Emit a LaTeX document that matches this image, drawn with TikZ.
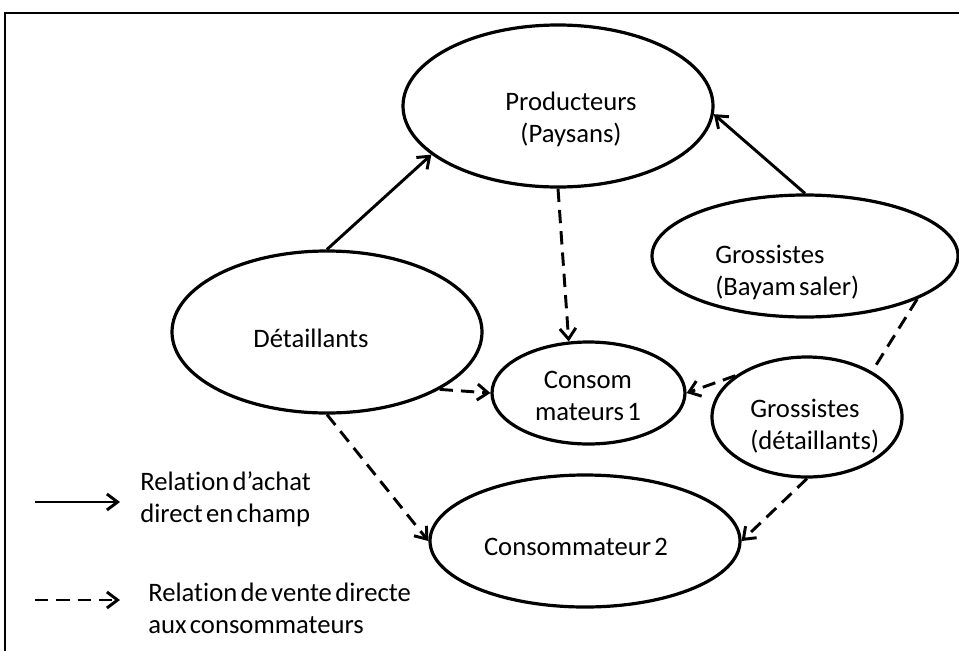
\documentclass[tikz,border=0pt]{standalone}
\usepackage{fontspec}
\setmainfont{Carlito}[WordSpace=0.55, RawFeature={-liga;-clig;-dlig;-hlig}]
\usetikzlibrary{arrows.meta,shapes.geometric}
\tikzset{
  ell/.style 2 args={draw, ellipse, line width=2.4pt, inner sep=0pt,
    minimum width=#1*0.75pt, minimum height=#2*0.75pt},
  txt/.style={inner sep=0pt, font=\fontsize{20}{24}\selectfont},
  buy/.style={line width=2.2pt, -{Straight Barb[length=8pt,width=12pt,line width=2.2pt]}},
  sell/.style={buy, dash pattern=on 10pt off 6pt},
  plain/.style={line width=2.2pt, dash pattern=on 10pt off 6pt},
  frameline/.style={line width=1.8pt}
}
\begin{document}
\begin{tikzpicture}[x=0.75pt,y=-0.75pt]
\useasboundingbox (0,0) rectangle (959,650);
% frame
\draw[frameline] (5,652) -- (5,13) -- (962,13);
% ellipses
\node[ell={310}{162}] (prod) at (558,106) {};
\node[ell={306}{122}] (bay)  at (805,256) {};
\node[ell={310}{162}] (det)  at (327,332) {};
\node[ell={193}{102}] (c1)   at (588.5,393) {};
\node[ell={190}{120}] (gd)   at (807,417) {};
\node[ell={310}{132}] (c2)   at (585,541) {};
% texts
\node[txt, align=center] (tprod) at (571,119) {Producteurs\\(Paysans)};
\node[txt, align=left, anchor=west] (tbay) at (715,272.5) {Grossistes\\(Bayam saler)};
\node[txt] (tdet) at (311,338) {Détaillants};
\node[txt, align=center] (tc1) at (588,396) {Consom\\mateurs 1};
\node[txt, align=left, anchor=west] (tgd) at (750,426) {Grossistes\\(détaillants)};
\node[txt] (tc2) at (576,547) {Consommateur 2};
% connectors
\draw[buy] (det.north) -- (prod.201);
\draw[buy] (bay.north) -- (prod.-3);
\draw[sell] (prod.south) -- (c1.111);
\draw[sell] (det.-27) -- (c1.west);
\draw[sell] (gd.150) -- (c1.east);
\draw[plain] (bay.-21) -- (gd.35);
\draw[sell] (det.south) -- (c2.west);
\draw[sell] (gd.south) -- (c2.east);
% legend
\coordinate (la1) at (35,502);
\coordinate (lb1) at (120,502);
\coordinate (la2) at (35,600);
\coordinate (lb2) at (120,600);
\draw[buy] (la1) -- (lb1);
\draw[sell] (la2) -- (lb2);
\node[txt, align=left, anchor=west] (leg1) at (140,499) {Relation d’achat\\direct en champ};
\node[txt, align=left, anchor=west] (leg2) at (148,608) {Relation de vente directe\\aux consommateurs};
\end{tikzpicture}
\end{document}
